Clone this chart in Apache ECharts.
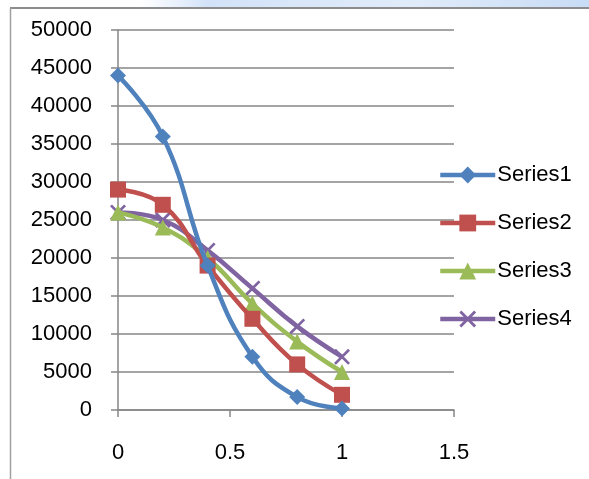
<!DOCTYPE html>
<html>
<head>
<meta charset="utf-8">
<script src="https://cdn.jsdelivr.net/npm/echarts@6/dist/echarts.min.js"></script>
<style>
html,body{margin:0;padding:0;background:#fff;}
#chart{width:589px;height:479px;}
</style>
</head>
<body>
<div id="chart"></div>
<script>
const xValues = [0, 0.2, 0.4, 0.6, 0.8, 1];
const seriesNames = ['Series1', 'Series2', 'Series3', 'Series4'];
const series1 = [44000, 36000, 19000, 7000, 1700, 200];
const series2 = [29000, 27000, 19000, 12000, 6000, 2000];
const series3 = [26000, 24000, 20000, 14000, 9000, 5000];
const series4 = [26000, 25000, 21000, 16000, 11000, 7000];
const xTicks = [0, 0.5, 1, 1.5];
const yTicks = [0, 5000, 10000, 15000, 20000, 25000, 30000, 35000, 40000, 45000, 50000];

const allValues = [series1, series2, series3, series4];
const colors = ['#4F81BD', '#C0504D', '#9BBB59', '#8064A2'];
const symbols = [
  'diamond',
  'rect',
  'triangle',
  'path://M0,1.2L1.2,0L10,8.8L8.8,10Z M8.8,0L10,1.2L1.2,10L0,8.8Z'
];
const symbolSizes = [16, 16, 16, 16];
const font = 'Liberation Sans';

const chart = echarts.init(document.getElementById('chart'));
chart.setOption({
  backgroundColor: '#ffffff',
  animation: false,
  grid: { left: 118, right: 135, top: 30, bottom: 69, containLabel: false },
  xAxis: {
    type: 'value',
    min: xTicks[0],
    max: xTicks[xTicks.length - 1],
    interval: 0.5,
    axisLine: { show: true, lineStyle: { color: '#868686', width: 1.5 } },
    axisTick: { show: true, length: 7, inside: false, lineStyle: { color: '#868686', width: 1.5 } },
    axisLabel: { margin: 32, color: '#000', fontFamily: font, fontSize: 22, formatter: v => String(v) },
    splitLine: { show: false }
  },
  yAxis: {
    type: 'value',
    min: yTicks[0],
    max: yTicks[yTicks.length - 1],
    interval: 5000,
    axisLine: { show: true, lineStyle: { color: '#868686', width: 1.5 } },
    axisTick: { show: true, length: 7, lineStyle: { color: '#868686', width: 1.5 } },
    axisLabel: { margin: 26, color: '#000', fontFamily: font, fontSize: 22, formatter: v => String(v) },
    splitLine: { show: true, lineStyle: { color: '#868686', width: 1.5 } }
  },
  legend: {
    orient: 'vertical',
    left: 433,
    top: 159,
    itemWidth: 55,
    itemHeight: 21,
    itemGap: 26,
    lineStyle: { width: 4.5 },
    textStyle: { color: '#000', fontFamily: font, fontSize: 22, padding: [0, 0, 0, -3] },
    data: seriesNames
  },
  graphic: [
    { type: 'rect', shape: { x: 140, y: 0, width: 449, height: 7 },
      style: { fill: new echarts.graphic.LinearGradient(0, 0, 1, 0, [
        { offset: 0, color: 'rgba(220,232,250,0)' },
        { offset: 0.15, color: 'rgba(210,226,248,1)' },
        { offset: 0.6, color: 'rgba(225,236,250,1)' },
        { offset: 1, color: 'rgba(200,220,245,1)' }
      ]) }, silent: true },
    { type: 'line', shape: { x1: 10, y1: 8, x2: 589, y2: 8 }, style: { stroke: '#8c8c8c', lineWidth: 2 } },
    { type: 'line', shape: { x1: 10.5, y1: 8, x2: 10.5, y2: 479 }, style: { stroke: '#a0a0a0', lineWidth: 1.5 } }
  ],
  series: seriesNames.map((name, i) => ({
    name: name,
    type: 'line',
    smooth: 0.45,
    data: xValues.map((x, j) => [x, allValues[i][j]]),
    symbol: symbols[i],
    symbolSize: symbolSizes[i],
    showAllSymbol: true,
    color: colors[i],
    lineStyle: { color: colors[i], width: 4.5 },
    itemStyle: { color: colors[i] },
    z: 10 - i
  }))
});
</script>
</body>
</html>
